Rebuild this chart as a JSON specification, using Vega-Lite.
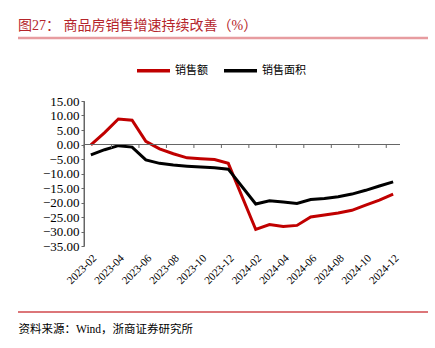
{
  "$schema": "https://vega.github.io/schema/vega-lite/v6.json",
  "width": 316,
  "height": 145,
  "autosize": {"type": "none"},
  "padding": {"left": 84, "top": 101, "right": 35, "bottom": 102},
  "background": "white",
  "config": {
    "view": {"stroke": null},
    "font": "Liberation Serif, Noto Sans CJK SC",
    "axisY": {
      "tickCount": 10,
      "format": ".2f",
      "grid": false,
      "domain": true,
      "domainColor": "#666666",
      "domainWidth": 1,
      "ticks": true,
      "tickColor": "#666666",
      "tickSize": 3,
      "labelPadding": 2,
      "labelOverlap": false,
      "labelFont": "Liberation Serif",
      "labelFontSize": 13,
      "labelColor": "#000000",
      "title": null
    }
  },
  "title": {
    "text": "图27：  商品房销售增速持续改善（%）",
    "anchor": "start",
    "frame": "group",
    "dx": -66,
    "offset": -7,
    "baseline": "alphabetic",
    "font": "Liberation Serif, Noto Sans CJK SC",
    "fontSize": 14,
    "fontWeight": "normal",
    "color": "#B5252B"
  },
  "datasets": {
    "sales": [
      {"month": "2023-02", "series": "销售额", "value": -0.1},
      {"month": "2023-03", "series": "销售额", "value": 4.1},
      {"month": "2023-04", "series": "销售额", "value": 8.8},
      {"month": "2023-05", "series": "销售额", "value": 8.4},
      {"month": "2023-06", "series": "销售额", "value": 1.1},
      {"month": "2023-07", "series": "销售额", "value": -1.5},
      {"month": "2023-08", "series": "销售额", "value": -3.2},
      {"month": "2023-09", "series": "销售额", "value": -4.6},
      {"month": "2023-10", "series": "销售额", "value": -4.9},
      {"month": "2023-11", "series": "销售额", "value": -5.2},
      {"month": "2023-12", "series": "销售额", "value": -6.5},
      {"month": "2024-02", "series": "销售额", "value": -29.3},
      {"month": "2024-03", "series": "销售额", "value": -27.6},
      {"month": "2024-04", "series": "销售额", "value": -28.3},
      {"month": "2024-05", "series": "销售额", "value": -27.9},
      {"month": "2024-06", "series": "销售额", "value": -25.0},
      {"month": "2024-07", "series": "销售额", "value": -24.3},
      {"month": "2024-08", "series": "销售额", "value": -23.6},
      {"month": "2024-09", "series": "销售额", "value": -22.7},
      {"month": "2024-10", "series": "销售额", "value": -20.9},
      {"month": "2024-11", "series": "销售额", "value": -19.2},
      {"month": "2024-12", "series": "销售额", "value": -17.1},
      {"month": "2023-02", "series": "销售面积", "value": -3.6},
      {"month": "2023-03", "series": "销售面积", "value": -1.8},
      {"month": "2023-04", "series": "销售面积", "value": -0.4},
      {"month": "2023-05", "series": "销售面积", "value": -0.9},
      {"month": "2023-06", "series": "销售面积", "value": -5.3},
      {"month": "2023-07", "series": "销售面积", "value": -6.5},
      {"month": "2023-08", "series": "销售面积", "value": -7.1},
      {"month": "2023-09", "series": "销售面积", "value": -7.5},
      {"month": "2023-10", "series": "销售面积", "value": -7.8},
      {"month": "2023-11", "series": "销售面积", "value": -8.0},
      {"month": "2023-12", "series": "销售面积", "value": -8.5},
      {"month": "2024-02", "series": "销售面积", "value": -20.5},
      {"month": "2024-03", "series": "销售面积", "value": -19.4},
      {"month": "2024-04", "series": "销售面积", "value": -19.8},
      {"month": "2024-05", "series": "销售面积", "value": -20.3},
      {"month": "2024-06", "series": "销售面积", "value": -19.0},
      {"month": "2024-07", "series": "销售面积", "value": -18.6},
      {"month": "2024-08", "series": "销售面积", "value": -18.0},
      {"month": "2024-09", "series": "销售面积", "value": -17.1},
      {"month": "2024-10", "series": "销售面积", "value": -15.8},
      {"month": "2024-11", "series": "销售面积", "value": -14.3},
      {"month": "2024-12", "series": "销售面积", "value": -12.9}
    ],
    "ticks": [
      {"month": "2023-02"}, {"month": "2023-04"}, {"month": "2023-06"},
      {"month": "2023-08"}, {"month": "2023-10"}, {"month": "2023-12"},
      {"month": "2024-02"}, {"month": "2024-04"}, {"month": "2024-06"},
      {"month": "2024-08"}, {"month": "2024-10"}, {"month": "2024-12"}
    ]
  },
  "layer": [
    {
      "data": {"name": "sales"},
      "mark": {"type": "line", "strokeWidth": 3, "strokeJoin": "miter"},
      "encoding": {
        "x": {
          "field": "month",
          "type": "ordinal",
          "sort": null,
          "scale": {
            "type": "band",
            "paddingInner": 0,
            "paddingOuter": 0,
            "domain": ["2023-02", "2023-03", "2023-04", "2023-05", "2023-06", "2023-07", "2023-08", "2023-09", "2023-10", "2023-11", "2023-12", "2024-01", "2024-02", "2024-03", "2024-04", "2024-05", "2024-06", "2024-07", "2024-08", "2024-09", "2024-10", "2024-11", "2024-12"]
          },
          "axis": {
            "values": ["2023-02", "2023-04", "2023-06", "2023-08", "2023-10", "2023-12", "2024-02", "2024-04", "2024-06", "2024-08", "2024-10", "2024-12"],
            "domain": false,
            "ticks": false,
            "labelAngle": -45,
            "labelAlign": "right",
            "labelBaseline": "top",
            "labelPadding": 6,
            "labelOverlap": false,
            "labelFont": "Liberation Serif",
            "labelFontSize": 11,
            "labelColor": "#000000",
            "title": "资料来源：Wind，浙商证券研究所",
            "titleAnchor": "start",
            "titleAlign": "left",
            "titleX": -66,
            "titleY": 86,
            "titleBaseline": "alphabetic",
            "titleFont": "Liberation Serif, Noto Sans CJK SC",
            "titleFontSize": 11.5,
            "titleFontWeight": "normal",
            "titleColor": "#000000"
          }
        },
        "y": {
          "field": "value",
          "type": "quantitative",
          "scale": {"domain": [-35, 15], "nice": false, "zero": false},
          "title": null
        },
        "color": {
          "field": "series",
          "type": "nominal",
          "scale": {"domain": ["销售额", "销售面积"], "range": ["#C00000", "#000000"]},
          "legend": {
            "orient": "none",
            "legendX": 51,
            "legendY": -49,
            "direction": "horizontal",
            "title": null,
            "symbolType": "stroke",
            "symbolSize": 1089,
            "symbolStrokeWidth": 3.5,
            "labelFont": "Noto Sans CJK SC",
            "labelFontSize": 11,
            "labelColor": "#000000",
            "labelOffset": 3,
            "columnPadding": 9
          }
        }
      }
    },
    {
      "data": {"values": [{}]},
      "mark": {"type": "rule", "stroke": "#666666", "strokeWidth": 1},
      "encoding": {"y": {"datum": 0, "type": "quantitative", "title": null}}
    },
    {
      "data": {"name": "ticks"},
      "mark": {"type": "rule", "stroke": "#666666", "strokeWidth": 1},
      "encoding": {
        "x": {"field": "month", "type": "ordinal", "bandPosition": 0},
        "y": {"datum": 0, "type": "quantitative", "title": null},
        "y2": {"datum": -1.2}
      }
    },
    {
      "data": {"values": [{"month": "2023-02"}]},
      "mark": {"type": "rule", "stroke": "#666666", "strokeWidth": 1},
      "encoding": {
        "x": {"field": "month", "type": "ordinal", "bandPosition": 0},
        "y": {"datum": 15, "type": "quantitative", "title": null},
        "y2": {"datum": -35}
      }
    },
    {
      "data": {"values": [{}]},
      "mark": {"type": "rule", "stroke": "#E79CA0", "strokeWidth": 2.5},
      "encoding": {"x": {"value": -66}, "x2": {"value": 344}, "y": {"value": -63}}
    },
    {
      "data": {"values": [{}]},
      "mark": {"type": "rule", "stroke": "#D0484C", "strokeWidth": 1.5},
      "encoding": {"x": {"value": -66}, "x2": {"value": 344}, "y": {"value": 211}}
    }
  ]
}
